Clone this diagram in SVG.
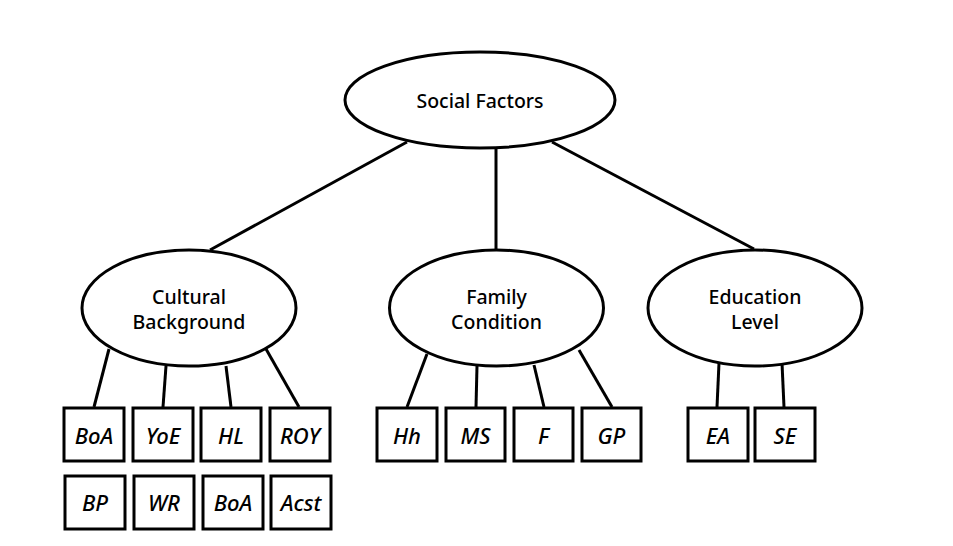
<svg xmlns="http://www.w3.org/2000/svg" width="953" height="546" viewBox="0 0 953 546">
<style>
.n{fill:#fff;stroke:#000;stroke-width:3}
.t{font-family:"Noto Sans","Liberation Sans",sans-serif;font-size:19.5px;font-weight:500;fill:#000;text-anchor:middle;dominant-baseline:central}
.b{font-family:"Noto Sans","Liberation Sans",sans-serif;font-size:22px;font-weight:500;font-style:italic;fill:#000;text-anchor:middle;dominant-baseline:central}
#edges line{stroke:#000;stroke-width:3}
</style>
<rect width="953" height="546" fill="#fff"/>
<g id="edges">
<line x1="407" y1="142" x2="210" y2="250"/>
<line x1="496" y1="148" x2="496" y2="249"/>
<line x1="552" y1="142" x2="754" y2="249"/>
<line x1="109" y1="349" x2="94" y2="407"/>
<line x1="166" y1="366" x2="163" y2="407"/>
<line x1="226" y1="366" x2="231" y2="407"/>
<line x1="266" y1="349" x2="299" y2="407"/>
<line x1="427" y1="354" x2="407" y2="407"/>
<line x1="477" y1="366" x2="476" y2="407"/>
<line x1="534" y1="365" x2="544" y2="407"/>
<line x1="579" y1="350" x2="612" y2="407"/>
<line x1="719" y1="363" x2="717" y2="407"/>
<line x1="782" y1="363" x2="784" y2="407"/>
</g>
<g id="social"><ellipse class="n" cx="480" cy="100" rx="135" ry="48"/><text class="t" x="480" y="100">Social Factors</text></g>
<g id="cultural"><ellipse class="n" cx="189" cy="308" rx="107" ry="58"/><text class="t" x="189" y="296">Cultural</text><text class="t" x="189" y="321">Background</text></g>
<g id="family"><ellipse class="n" cx="496.5" cy="308" rx="107" ry="58"/><text class="t" x="496.5" y="296">Family</text><text class="t" x="496.5" y="321">Condition</text></g>
<g id="education"><ellipse class="n" cx="755" cy="308" rx="107" ry="58"/><text class="t" x="755" y="296">Education</text><text class="t" x="755" y="321">Level</text></g>
<g id="boa1"><rect class="n" x="64" y="408" width="60" height="53"/><text class="b" x="94" y="435">BoA</text></g>
<g id="yoe"><rect class="n" x="133" y="408" width="60" height="53"/><text class="b" x="163" y="435">YoE</text></g>
<g id="hl"><rect class="n" x="201" y="408" width="60" height="53"/><text class="b" x="231" y="435">HL</text></g>
<g id="roy"><rect class="n" x="270" y="408" width="60" height="53"/><text class="b" x="300" y="435">ROY</text></g>
<g id="bp"><rect class="n" x="65" y="476" width="60" height="53"/><text class="b" x="95" y="502">BP</text></g>
<g id="wr"><rect class="n" x="134" y="476" width="60" height="53"/><text class="b" x="164" y="502">WR</text></g>
<g id="boa2"><rect class="n" x="203" y="476" width="60" height="53"/><text class="b" x="233" y="502">BoA</text></g>
<g id="acst"><rect class="n" x="271" y="476" width="60" height="53"/><text class="b" x="301" y="502">Acst</text></g>
<g id="hh"><rect class="n" x="377" y="408" width="60" height="53"/><text class="b" x="407" y="435">Hh</text></g>
<g id="ms"><rect class="n" x="446" y="408" width="59" height="53"/><text class="b" x="475.5" y="435">MS</text></g>
<g id="f"><rect class="n" x="514" y="408" width="59" height="53"/><text class="b" x="543.5" y="435">F</text></g>
<g id="gp"><rect class="n" x="582" y="408" width="59" height="53"/><text class="b" x="611.5" y="435">GP</text></g>
<g id="ea"><rect class="n" x="688" y="408" width="60" height="53"/><text class="b" x="718" y="435">EA</text></g>
<g id="se"><rect class="n" x="755" y="408" width="60" height="53"/><text class="b" x="785" y="435">SE</text></g>
</svg>
